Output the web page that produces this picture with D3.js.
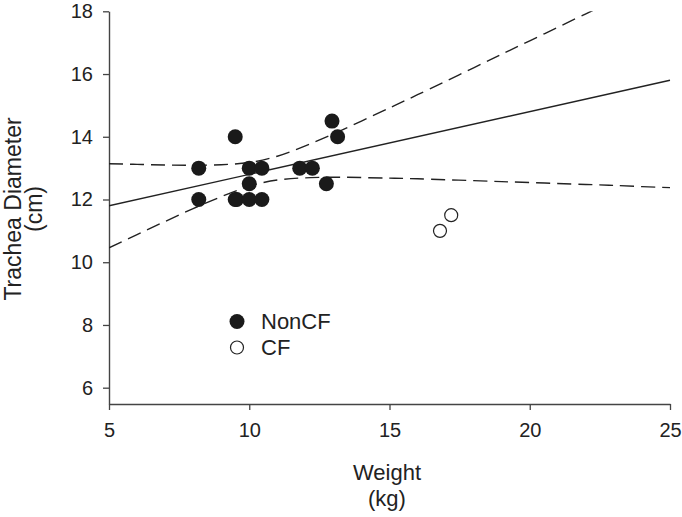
<!DOCTYPE html>
<html>
<head>
<meta charset="utf-8">
<script src="https://cdn.jsdelivr.net/npm/d3@7"></script>
<style>
  html, body { margin: 0; padding: 0; background: #fff; }
  svg { display: block; font-family: "Liberation Sans", Arial, sans-serif; }
</style>
</head>
<body>
<svg id="chart" width="682" height="517"></svg>
<script>
// ---- data ----
const nonCFWeight = [8.2, 8.2, 9.5, 9.5, 9.55, 10.0, 10.0, 10.0, 10.45, 10.45, 11.8, 12.25, 12.75, 12.95, 13.15];
const nonCFDiam   = [13.0, 12.0, 14.0, 12.0, 12.0, 13.0, 12.5, 12.0, 13.0, 12.0, 13.0, 13.0, 12.5, 14.5, 14.0];
const cfWeight = [16.8, 17.2];
const cfDiam   = [11.0, 11.5];

// regression line end points
const fitX = [5, 25];
const fitY = [11.8, 15.8];

// confidence band
const bandX     = [5, 6, 7, 8, 9, 10, 11, 12, 13, 14, 15, 16, 18, 20, 22, 23, 24, 25];
const bandUpper = [13.14, 13.12, 13.10, 13.09, 13.11, 13.18, 13.38, 13.71, 14.09, 14.50, 14.92, 15.34, 16.20, 17.06, 17.92, 18.35, 18.8, 19.2];
const bandLower = [10.46, 10.88, 11.30, 11.71, 12.09, 12.42, 12.62, 12.69, 12.71, 12.70, 12.68, 12.66, 12.60, 12.54, 12.48, 12.45, 12.41, 12.38];

const xTicks = [5, 10, 15, 20, 25];
const yTicks = [6, 8, 10, 12, 14, 16, 18];
const legendLabels = ["NonCF", "CF"];

// ---- layout ----
const svg = d3.select("#chart");
const pLeft = 109, pRight = 670, pTop = 11.3, pBottom = 404;
const ink = "#222";
const axisColor = "#444";

const x = d3.scaleLinear().domain([5, 25]).range([pLeft, pRight]);
const y = d3.scaleLinear().domain([5.48, 18]).range([pBottom, pTop]);

svg.append("defs").append("clipPath").attr("id", "plotclip")
  .append("rect").attr("x", pLeft).attr("y", pTop).attr("width", pRight - pLeft + 2).attr("height", pBottom - pTop);

// axes
const xAxis = svg.append("g").attr("transform", `translate(0,${pBottom})`)
  .call(d3.axisBottom(x).tickValues(xTicks).tickSizeOuter(0).tickSizeInner(6).tickPadding(13));
const yAxis = svg.append("g").attr("transform", `translate(${pLeft},0)`)
  .call(d3.axisLeft(y).tickValues(yTicks).tickSizeOuter(0).tickSizeInner(6).tickPadding(10));
[xAxis, yAxis].forEach(g => {
  g.select(".domain").attr("stroke", axisColor).attr("stroke-width", 1.4);
  g.selectAll(".tick line").attr("stroke", axisColor).attr("stroke-width", 1.3);
  g.selectAll(".tick text").attr("fill", ink).style("font-size", "20px")
    .style("font-family", "'Liberation Sans', Arial, sans-serif");
});

// axis titles
svg.append("text").attr("x", 387).attr("y", 480).attr("text-anchor", "middle")
  .attr("fill", ink).style("font-size", "22px").text("Weight");
svg.append("text").attr("x", 387).attr("y", 506).attr("text-anchor", "middle")
  .attr("fill", ink).style("font-size", "22px").text("(kg)");
svg.append("text").attr("transform", "translate(21,209) rotate(-90)").attr("text-anchor", "middle")
  .attr("fill", ink).style("font-size", "23px").text("Trachea Diameter");
svg.append("text").attr("transform", "translate(42,209) rotate(-90)").attr("text-anchor", "middle")
  .attr("fill", ink).style("font-size", "23px").text("(cm)");

const plot = svg.append("g").attr("clip-path", "url(#plotclip)");

// regression line
plot.append("line")
  .attr("x1", x(fitX[0])).attr("y1", y(fitY[0]))
  .attr("x2", x(fitX[1])).attr("y2", y(fitY[1]))
  .attr("stroke", ink).attr("stroke-width", 1.4);

// confidence band
const bandLine = d3.line().curve(d3.curveNatural).x(d => x(d[0])).y(d => y(d[1]));
[bandUpper, bandLower].forEach(arr => {
  plot.append("path")
    .datum(bandX.map((v, i) => [v, arr[i]]))
    .attr("d", bandLine)
    .attr("fill", "none").attr("stroke", ink).attr("stroke-width", 1.4)
    .attr("stroke-dasharray", "14,7");
});

// points
svg.append("g").selectAll("circle").data(nonCFWeight.map((v, i) => [v, nonCFDiam[i]]))
  .join("circle").attr("cx", d => x(d[0])).attr("cy", d => y(d[1])).attr("r", 7.5)
  .attr("fill", "#1a1a1a");
svg.append("g").selectAll("circle").data(cfWeight.map((v, i) => [v, cfDiam[i]]))
  .join("circle").attr("cx", d => x(d[0])).attr("cy", d => y(d[1])).attr("r", 6.5)
  .attr("fill", "#fff").attr("stroke", ink).attr("stroke-width", 1.2);

// legend
const lg = svg.append("g").attr("transform", "translate(237,321.5)");
lg.append("circle").attr("cx", 0).attr("cy", 0).attr("r", 7.5).attr("fill", "#1a1a1a");
lg.append("circle").attr("cx", 0).attr("cy", 26).attr("r", 6.5).attr("fill", "#fff")
  .attr("stroke", ink).attr("stroke-width", 1.2);
legendLabels.forEach((t, i) => {
  lg.append("text").attr("x", 24).attr("y", i * 26 + 7.5).attr("fill", ink)
    .style("font-size", "22px").text(t);
});
</script>
</body>
</html>
